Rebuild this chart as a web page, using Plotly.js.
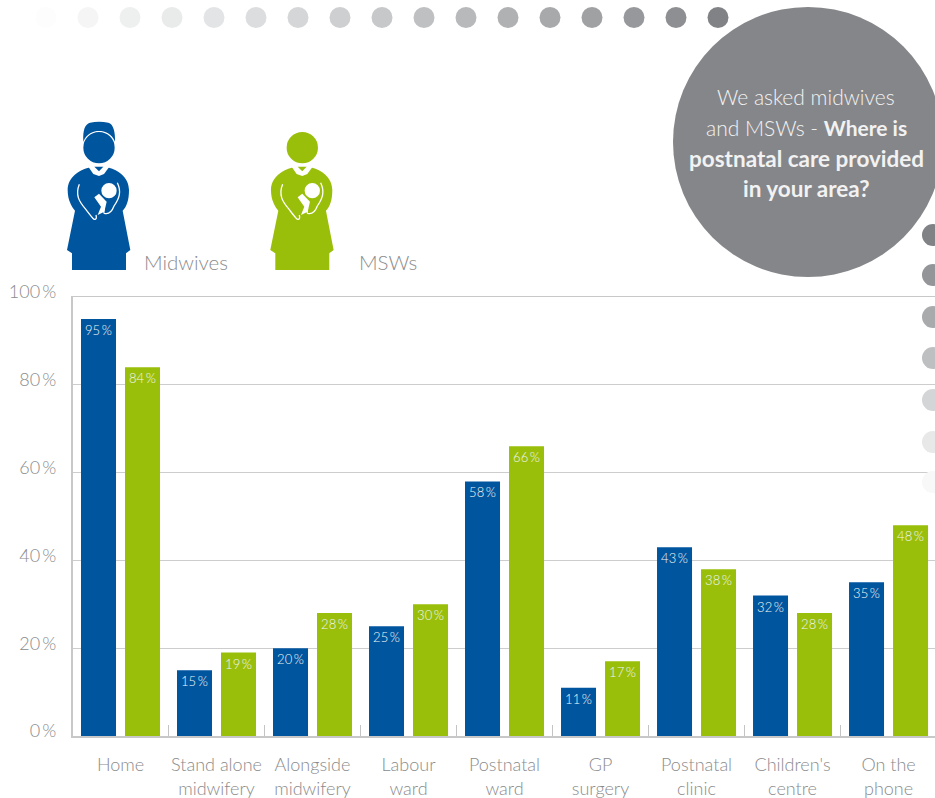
<!DOCTYPE html>
<html>
<head>
<meta charset="utf-8">
<script src="https://cdn.plot.ly/plotly-3.0.1.min.js"></script>
<style>html,body{margin:0;padding:0;background:#fff;overflow:hidden}#chart{width:935px;height:798px}</style>
</head>
<body>
<div id="chart"></div>
<script>
var categories = ["Home","Stand alone<br>midwifery","Alongside<br>midwifery","Labour<br>ward","Postnatal<br>ward","GP<br>surgery","Postnatal<br>clinic","Children's<br>centre","On the<br>phone"];
var midwives = [95,15,20,25,58,11,43,32,35];
var msws = [84,19,28,30,66,17,38,28,48];
var yTicks = [0,20,40,60,80,100];
var FONT = "Lato, 'Open Sans', sans-serif";
var W = 935, H = 798;
var BLUE = "#00559f", GREEN = "#9abf0b", GREY = "#858689", TXT = "#8a8b8d";

function pct(v){ return v + "\u2009%"; }
function mapPath(d, fx, fy){
  var isX = true;
  return d.replace(/-?\d+(\.\d+)?|[A-Za-z]/g, function(t){
    if (/[A-Za-z]/.test(t)) { isX = true; return t; }
    var v = parseFloat(t), r = isX ? fx(v)/W : 1 - fy(v)/H;
    isX = !isX;
    return r.toFixed(5);
  });
}
function circle(cx, cy, r, fill, extra){
  return Object.assign({type:"circle", xref:"paper", yref:"paper",
    x0:(cx-r)/W, x1:(cx+r)/W, y0:1-(cy+r)/H, y1:1-(cy-r)/H,
    fillcolor:fill, line:{width:0}, layer:"above"}, extra||{});
}
function icon(ox, color, cap){
  var fx = function(v){ return ox + v/3; }, fy = function(v){ return 100 + v/3; };
  function p(d, fill, lw){
    return {type:"path", xref:"paper", yref:"paper", path:mapPath(d, fx, fy),
      fillcolor: fill || "rgba(0,0,0,0)", line:{width: lw||0, color:"#ffffff"}, layer:"above"};
  }
  var s = [];
  var body = "M145,203 C120,210 83,230 83,270 C83,300 95,320 105,332 L81,450 L96,460 L96,510 L258,510 L258,460 L271,450 L248,332 C260,320 267,300 267,270 C267,230 232,210 207,203 Z";
  s.push(p(body, color));
  if (cap) s.push(p("M130,125 C128,90 135,72 150,68 Q177,62 205,68 C220,72 226,95 225,125 C215,100 195,93 177,93 C160,93 140,100 130,125 Z", color));
  s.push(circle(fx(177), fy(143), 47/3, color));
  s.push(p("M145,200 L208,200 L192,222 L177,228 L160,222 Z", "#ffffff"));
  s.push(p("M163,200 L190,200 L177,214 Z", color));
  s.push(p("M118,253 C105,285 118,305 135,325 C145,338 155,352 162,358 Q172,360 168,345", null, 1.3));
  s.push(p("M232,248 C245,275 238,295 222,318 Q212,345 193,340 Q190,338 193,325", null, 1.3));
  s.push(circle(fx(207), fy(272), 23/3, "#ffffff"));
  s.push(p("M163,292 L177,281 L200,305 L193,335 L173,345 L183,320 Z", "#ffffff"));
  return s;
}

var topDots = [46,88,130,172,214,256,298,340,382,424,466,508,550,592,634,676,718];
var topColors = ["#fdfdfd","#f5f5f5","#eeefef","#e9eaea","#e3e4e5","#dcddde","#d5d6d7","#cecfd0","#c7c8c9","#bfc0c2","#b8b9bb","#b0b1b3","#a8a9ab","#a0a1a3","#97989b","#8e8f92","#808285"];
var sideDots = [235,275,317,358,400,442,482];
var sideColors = ["#808285","#949598","#a9aaac","#bebfc1","#d4d5d6","#e8e8e9","#f8f8f8"];

var shapes = [];
topDots.forEach(function(x,i){ shapes.push(circle(x, 17.5, 10.5, topColors[i])); });
shapes.push(circle(808, 142, 135, GREY));
sideDots.forEach(function(y,i){ shapes.push(circle(933, y, 11, sideColors[i])); });
shapes = shapes.concat(icon(40, BLUE, true)).concat(icon(243.3, GREEN, false));

function note(text, x, y, size, color, anchor, weight){
  return {text:text, xref:"paper", yref:"paper", x:x/W, y:1-y/H, showarrow:false,
    xanchor:anchor||"center", yanchor:"middle", align:"center",
    font:{family:FONT, size:size, color:color, weight:weight||300}};
}
var annotations = [
  note("We asked midwives", 806, 96, 21, "#f2f2f2"),
  note("and MSWs - <b>Where is</b>", 806, 127, 21, "#f2f2f2"),
  note("<b>postnatal care provided</b>", 806, 158, 22.5, "#f2f2f2"),
  note("<b>in your area?</b>", 806, 189, 22.5, "#f2f2f2"),
  note("Midwives", 142, 262, 20.5, TXT, "left"),
  note("MSWs", 357, 262, 20.5, TXT, "left")
];

function bar(name, vals, color){
  return {type:"bar", name:name, x:categories, y:vals, marker:{color:color, line:{width:0}},
    text:vals.map(pct), textposition:"inside", insidetextanchor:"end", textangle:0,
    constraintext:"none", insidetextfont:{family:FONT, size:13, color:"#f2f5f3", weight:300}, hoverinfo:"x+y"};
}
var layout = {
  width:W, height:H, margin:{l:0,r:0,t:0,b:0}, showlegend:false,
  paper_bgcolor:"#ffffff", plot_bgcolor:"#ffffff",
  barmode:"group", bargap:0.0833, bargroupgap:0.2045,
  xaxis:{domain:[72.5/W,1], type:"category", range:[-0.5,8.484], tickmode:"array",
    tickvals:categories, ticktext:categories, tickangle:0,
    ticks:"inside", tickson:"boundaries", ticklen:11, tickcolor:"#c4c4c4", tickwidth:1,
    ticklabelstandoff:12, tickfont:{family:FONT, size:18, color:TXT, weight:300},
    showgrid:false, showline:true, mirror:true, linecolor:"#c8c8c8", linewidth:1.5, zeroline:false, fixedrange:true},
  yaxis:{domain:[1-736/H,1-297/H], range:[0,100], tickmode:"array", tickvals:yTicks,
    ticktext:yTicks.map(pct), ticks:"", ticklabelstandoff:11, ticklabelshift:-5,
    tickfont:{family:FONT, size:18, color:TXT, weight:300},
    showgrid:true, gridcolor:"#cdcdcd", gridwidth:1.2, showline:true, linecolor:"#c8c8c8", linewidth:1.5,
    zeroline:false, fixedrange:true},
  shapes:shapes, annotations:annotations
};
Plotly.newPlot("chart", [bar("Midwives", midwives, BLUE), bar("MSWs", msws, GREEN)], layout, {displayModeBar:false, staticPlot:true});
</script>
</body>
</html>
